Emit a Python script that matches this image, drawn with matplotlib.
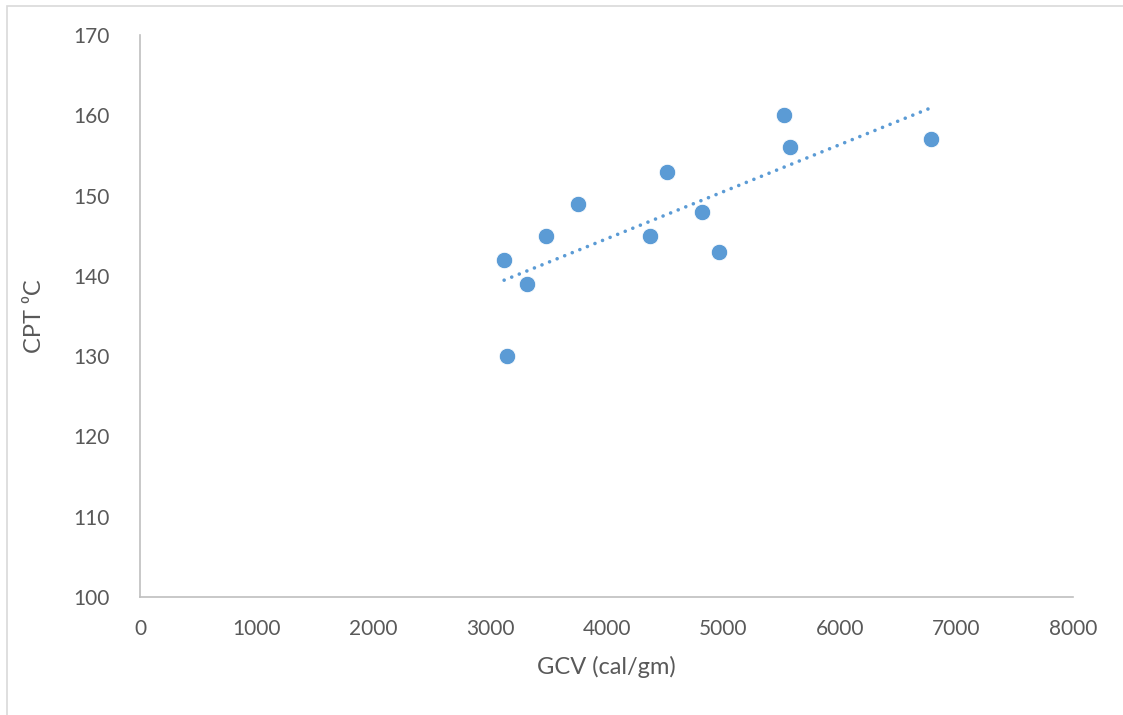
import numpy as np
import matplotlib
matplotlib.use("Agg")
import matplotlib.pyplot as plt
from matplotlib.patches import Rectangle

plt.rcParams['font.family'] = ['Lato', 'DejaVu Sans']

gcv = [3122, 3147, 3319, 3482, 3756, 4374, 4520, 4820, 4966, 5523, 5575, 6784]
cpt = [142, 130, 139, 145, 149, 145, 153, 148, 143, 160, 156, 157]
x_ticks = [0, 1000, 2000, 3000, 4000, 5000, 6000, 7000, 8000]
y_ticks = [100, 110, 120, 130, 140, 150, 160, 170]

blue = '#5B9BD5'
grey_txt = '#595959'
grey_line = '#BFBFBF'

fig = plt.figure(figsize=(11.23, 7.15), dpi=100)
ax = fig.add_axes([0.1247, 0.165, 0.8308, 0.786])

# chart frame
fig.patches.append(Rectangle((7 / 1123, -0.1), 1.2, 1 - 6 / 715 + 0.1,
                             transform=fig.transFigure, fill=False,
                             edgecolor='#D9D9D9', linewidth=1.2))

ax.scatter(gcv, cpt, s=140, color=blue, edgecolor='white', linewidth=0.6, zorder=3)

# linear trend line
coef = np.polyfit(gcv, cpt, 1)
xs = np.array([min(gcv), max(gcv)])
ax.plot(xs, np.polyval(coef, xs), color=blue, linewidth=2.6,
        linestyle=(0, (0.01, 2.25)), dash_capstyle='round', zorder=2)

ax.set_xlim(0, 8000)
ax.set_ylim(100, 170)
ax.set_xticks(x_ticks)
ax.set_yticks(y_ticks)
ax.tick_params(length=0, labelsize=15, labelcolor=grey_txt)
ax.tick_params(axis='y', pad=22)
ax.tick_params(axis='x', pad=16)
for s in ['top', 'right']:
    ax.spines[s].set_visible(False)
for s in ['left', 'bottom']:
    ax.spines[s].set_color(grey_line)
    ax.spines[s].set_linewidth(1.2)

ax.set_xlabel('GCV (cal/gm)', fontsize=17, color=grey_txt, labelpad=12)
ax.set_ylabel('CPT \u2070C', fontsize=17, color=grey_txt, labelpad=20)

fig.savefig('out.png', dpi=100, facecolor='white')
